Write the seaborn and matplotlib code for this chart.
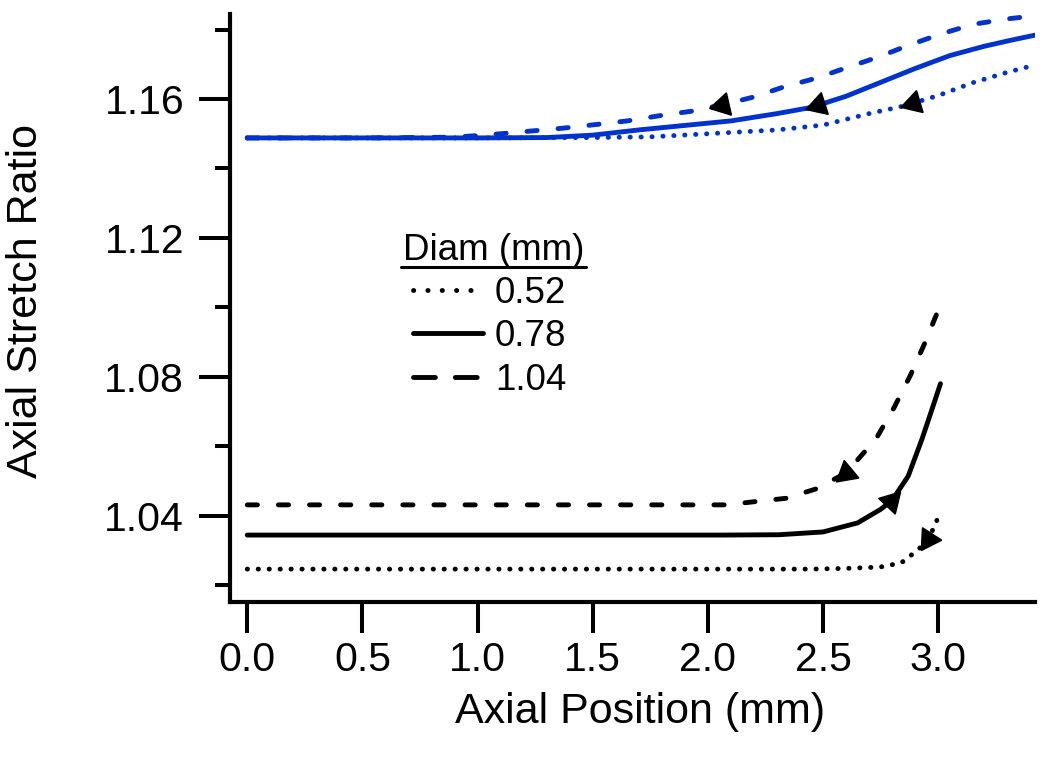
import numpy as np
import pandas as pd
import matplotlib
matplotlib.use("Agg")
import matplotlib.pyplot as plt
import seaborn as sns
from matplotlib.lines import Line2D

# -----------------------------
# Data
# -----------------------------
diam_labels = ["0.52", "0.78", "1.04"]

# blue curves
blue_x_052 = [0.0, 0.5, 1.0, 1.5, 1.75, 2.0, 2.3, 2.5, 2.7, 2.85, 3.0, 3.15, 3.3, 3.42]
blue_y_052 = [1.1488, 1.1488, 1.1488, 1.1489, 1.1491, 1.1500, 1.1511, 1.1525, 1.1558,
              1.1580, 1.1610, 1.1647, 1.1677, 1.1698]

blue_x_078 = [0.0, 0.5, 1.0, 1.3, 1.5, 1.7, 1.9, 2.1, 2.3, 2.45, 2.6, 2.75, 2.9, 3.05,
              3.2, 3.32, 3.42]
blue_y_078 = [1.1488, 1.1488, 1.1488, 1.1489, 1.1496, 1.1511, 1.1524, 1.1537, 1.1558,
              1.1576, 1.1608, 1.1648, 1.1688, 1.1725, 1.1752, 1.1770, 1.1784]

blue_x_104 = [0.0, 0.5, 0.9, 1.1, 1.37, 1.52, 1.65, 1.8, 1.93, 2.06, 2.2, 2.33, 2.47,
              2.61, 2.74, 2.88, 3.02, 3.15, 3.29, 3.42]
blue_y_104 = [1.1488, 1.1488, 1.1490, 1.1500, 1.1516, 1.1527, 1.1537, 1.1553, 1.1565,
              1.1583, 1.1606, 1.1635, 1.1660, 1.1692, 1.1721, 1.1757, 1.1789, 1.1815,
              1.1830, 1.1840]

# black curves
black_x_052 = [0.0, 1.0, 2.0, 2.45, 2.6, 2.75, 2.84, 2.89, 2.93, 2.96, 2.99, 3.01]
black_y_052 = [1.0246, 1.0246, 1.0246, 1.0246, 1.0248, 1.0252, 1.0264, 1.0290, 1.0312,
               1.0336, 1.0378, 1.0415]

black_x_078 = [0.0, 1.0, 2.07, 2.31, 2.5, 2.65, 2.75, 2.8, 2.87, 2.93, 2.97, 3.01]
black_y_078 = [1.0344, 1.0344, 1.0344, 1.0345, 1.0353, 1.0379, 1.0418, 1.0444, 1.0514,
               1.0621, 1.0700, 1.0780]

black_x_104 = [0.0, 1.0, 2.08, 2.2, 2.34, 2.47, 2.6, 2.73, 2.81, 2.88, 2.94, 3.01]
black_y_104 = [1.0431, 1.0431, 1.0431, 1.0440, 1.0450, 1.0477, 1.0523, 1.0621, 1.0713,
               1.0805, 1.0894, 1.1007]

# arrow head positions along each curve (0.52, 0.78, 1.04)
arrow_x_blue = [2.89, 2.48, 2.06]
arrow_x_black = [2.955, 2.795, 2.60]
arrow_back_black = [True, False, True]

x_ticks = [0.0, 0.5, 1.0, 1.5, 2.0, 2.5, 3.0]
y_ticks = [1.04, 1.08, 1.12, 1.16]
y_minor = [1.02, 1.06, 1.10, 1.14, 1.18]

# -----------------------------
# Long form tables
# -----------------------------
def make_df(xs_list, ys_list):
    parts = []
    for lab, xs, ys in zip(diam_labels, xs_list, ys_list):
        parts.append(pd.DataFrame({"x": xs, "y": ys, "diam": lab}))
    return pd.concat(parts, ignore_index=True)

blue_df = make_df([blue_x_052, blue_x_078, blue_x_104], [blue_y_052, blue_y_078, blue_y_104])
black_df = make_df([black_x_052, black_x_078, black_x_104], [black_y_052, black_y_078, black_y_104])

# -----------------------------
# Style
# -----------------------------
sns.set_theme(style="ticks")
plt.rcParams["font.family"] = ["Liberation Sans", "DejaVu Sans"]
plt.rcParams["text.color"] = "black"
plt.rcParams["axes.labelcolor"] = "black"
plt.rcParams["xtick.color"] = "black"
plt.rcParams["ytick.color"] = "black"

BLUE = "#0033cc"
LW = 3.5
dash_map = {"0.52": (0.05, 2.2), "0.78": "", "1.04": (2.1, 4.3)}
legend_dash_map = {"0.52": (0.05, 2.9), "0.78": "", "1.04": (4.5, 4.1)}

fig = plt.figure(figsize=(10.5, 7.64), dpi=100)
ax = fig.add_axes([0.219, 0.2124, 0.7667, 0.7693])

sns.lineplot(data=blue_df, x="x", y="y", style="diam", style_order=diam_labels,
             dashes=dash_map, color=BLUE, lw=LW, dash_capstyle="round",
             legend=False, ax=ax)
sns.lineplot(data=black_df, x="x", y="y", style="diam", style_order=diam_labels,
             dashes=dash_map, color="black", lw=LW, dash_capstyle="round",
             legend=False, ax=ax)

ax.set_xlim(-0.0751, 3.4204)
ax.set_ylim(1.0152, 1.1845)

# -----------------------------
# Axes
# -----------------------------
for s in ["top", "right"]:
    ax.spines[s].set_visible(False)
for s in ["left", "bottom"]:
    ax.spines[s].set_linewidth(3)
    ax.spines[s].set_color("black")

ax.set_xticks(x_ticks)
ax.set_xticklabels([f"{v:.1f}" for v in x_ticks])
ax.set_yticks(y_ticks)
ax.set_yticklabels([f"{v:.2f}" for v in y_ticks])
ax.set_yticks(y_minor, minor=True)
ax.tick_params(axis="both", which="major", length=22, width=2.9, labelsize=29.5)
ax.tick_params(axis="x", pad=6)
ax.tick_params(axis="y", pad=11)
ax.tick_params(axis="y", which="minor", length=11, width=2.9)

ax.set_xlabel("Axial Position (mm)", fontsize=31)
ax.set_ylabel("Axial Stretch Ratio", fontsize=31)
ax.xaxis.set_label_coords(0.509, -0.188)
ax.xaxis.label.set_va("center")
ax.yaxis.set_label_coords(-0.253, 0.512)
ax.yaxis.label.set_va("center")

# -----------------------------
# Arrow heads following the curves
# -----------------------------
def head_angle(xs, ys, x0, back=True):
    d = 0.02
    p1 = ax.transData.transform((x0 - d, np.interp(x0 - d, xs, ys)))
    p2 = ax.transData.transform((x0 + d, np.interp(x0 + d, xs, ys)))
    ang = np.degrees(np.arctan2(p2[1] - p1[1], p2[0] - p1[0]))
    return ang + 180 if back else ang

blue_curves = [(blue_x_052, blue_y_052), (blue_x_078, blue_y_078), (blue_x_104, blue_y_104)]
black_curves = [(black_x_052, black_y_052), (black_x_078, black_y_078), (black_x_104, black_y_104)]

for (xs, ys), xa in zip(blue_curves, arrow_x_blue):
    ang = head_angle(xs, ys, xa, True)
    ax.plot([xa], [np.interp(xa, xs, ys)], marker=(3, 0, ang - 90), ms=19,
            color="black", ls="none", zorder=5)
for (xs, ys), xa, back in zip(black_curves, arrow_x_black, arrow_back_black):
    ang = head_angle(xs, ys, xa, back)
    ax.plot([xa], [np.interp(xa, xs, ys)], marker=(3, 0, ang - 90), ms=19,
            color="black", ls="none", zorder=5)

# -----------------------------
# Legend
# -----------------------------
handles = []
for d in diam_labels:
    h = Line2D([], [], color="black", lw=LW, dash_capstyle="round")
    if legend_dash_map[d]:
        h.set_dashes(legend_dash_map[d])
    handles.append(h)

leg = ax.legend(handles, diam_labels, loc="upper left", bbox_to_anchor=(0.2273, 0.555),
                frameon=False, fontsize=26.5, handlelength=1.9, handletextpad=0.33,
                labelspacing=0.24, borderpad=0, borderaxespad=0)

title = ax.text(0.2149, 0.581, "Diam (mm)", transform=ax.transAxes, fontsize=26.5,
                ha="left", va="baseline")

fig.canvas.draw()
bb = title.get_window_extent()
inv = fig.transFigure.inverted()
(x0, y0), (x1, _) = inv.transform([(bb.x0 - 2, bb.y0 + 1), (bb.x1 + 2, bb.y0 + 1)])
fig.add_artist(Line2D([x0, x1], [y0, y0], color="black", lw=2.2, transform=fig.transFigure))

fig.savefig("out.png", dpi=100)
